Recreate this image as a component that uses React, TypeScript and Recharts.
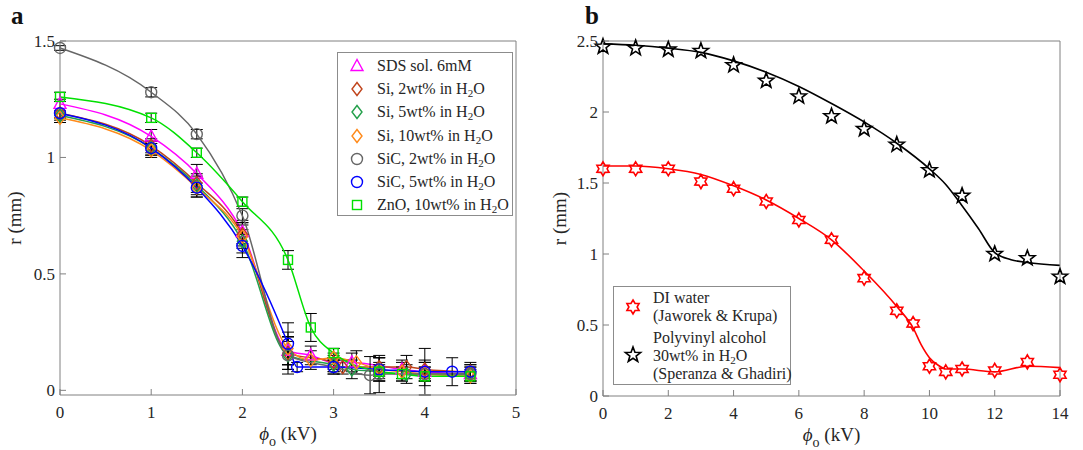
import React from "react";
import { LineChart, ComposedChart, Line, Scatter, XAxis, YAxis, ErrorBar } from "recharts";

const FONT = '"Liberation Serif", "Times New Roman", serif';
const AXIS_COLOR = "#808080";
const TEXT_COLOR = "#262626";

// ---- panel a: measured radius, error bars are std dev
const ticksA_X = [0, 1, 2, 3, 4, 5];
const ticksA_Y = [0, 0.5, 1, 1.5];

const sdsX = [0, 1, 1.5, 2, 2.5, 2.75, 3, 3.2, 3.75, 4, 4.5];
const sdsY = [1.23, 1.09, 0.93, 0.68, 0.17, 0.15, 0.12, 0.12, 0.09, 0.08, 0.07];
const sdsE = [0.02, 0.03, 0.04, 0.05, 0.06, 0.04, 0.04, 0.04, 0.04, 0.04, 0.03];

const si2X = [0, 1, 1.5, 2, 2.5, 3, 3.1, 3.5, 3.8, 4, 4.5];
const si2Y = [1.19, 1.05, 0.89, 0.67, 0.16, 0.12, 0.1, 0.1, 0.1, 0.09, 0.08];
const si2E = [0.02, 0.03, 0.04, 0.05, 0.07, 0.03, 0.03, 0.04, 0.05, 0.04, 0.03];

const si5X = [0, 1, 1.5, 2, 2.5, 3, 3.2, 3.5, 3.8, 4, 4.5];
const si5Y = [1.18, 1.04, 0.88, 0.64, 0.15, 0.11, 0.09, 0.08, 0.07, 0.07, 0.07];
const si5E = [0.02, 0.03, 0.04, 0.05, 0.08, 0.03, 0.04, 0.04, 0.04, 0.03, 0.03];

const si10X = [0, 1, 1.5, 2, 2.5, 2.75, 3, 3.25, 3.5, 3.75, 4, 4.5];
const si10Y = [1.17, 1.03, 0.87, 0.66, 0.18, 0.13, 0.14, 0.12, 0.09, 0.08, 0.07, 0.06];
const si10E = [0.02, 0.03, 0.04, 0.05, 0.07, 0.04, 0.04, 0.05, 0.05, 0.04, 0.03, 0.03];

const sic2X = [0, 1, 1.5, 2, 2.5, 3, 3.4, 3.5, 4, 4.5];
const sic2Y = [1.47, 1.28, 1.1, 0.75, 0.15, 0.1, 0.065, 0.07, 0.07, 0.07];
const sic2E = [0.01, 0.02, 0.02, 0.03, 0.06, 0.03, 0.08, 0.08, 0.05, 0.04];

const sic5X = [0, 1, 1.5, 2, 2.5, 2.6, 3, 3.5, 4, 4.3, 4.5];
const sic5Y = [1.19, 1.04, 0.87, 0.62, 0.2, 0.1, 0.1, 0.09, 0.08, 0.08, 0.08];
const sic5E = [0.02, 0.03, 0.04, 0.05, 0.09, 0.02, 0.03, 0.05, 0.1, 0.06, 0.04];

const znoX = [0, 1, 1.5, 2, 2.5, 2.75, 3, 3.5, 3.75, 4, 4.5];
const znoY = [1.26, 1.17, 1.02, 0.81, 0.56, 0.27, 0.16, 0.08, 0.07, 0.06, 0.06];
const znoE = [0.02, 0.02, 0.02, 0.02, 0.04, 0.06, 0.02, 0.03, 0.03, 0.02, 0.02];

// ---- panel b: literature data + fitted curves
const ticksB_X = [0, 2, 4, 6, 8, 10, 12, 14];
const ticksB_Y = [0, 0.5, 1, 1.5, 2, 2.5];

const diX = [0, 1, 2, 3, 4, 5, 6, 7, 8, 9, 9.5, 10, 10.5, 11, 12, 13, 14];
const diY = [1.6, 1.6, 1.6, 1.51, 1.46, 1.37, 1.24, 1.1, 0.83, 0.6, 0.51, 0.21, 0.17, 0.19, 0.18, 0.24, 0.15];
const diFitX = [0, 1, 2, 3, 4, 5, 6, 7, 8, 9, 9.5, 9.75, 10, 10.25, 10.5, 11, 12, 13, 14];
const diFitY = [1.62, 1.62, 1.6, 1.56, 1.48, 1.38, 1.25, 1.1, 0.88, 0.63, 0.48, 0.36, 0.27, 0.22, 0.19, 0.19, 0.17, 0.21, 0.2];

const pvaX = [0, 1, 2, 3, 4, 5, 6, 7, 8, 9, 10, 11, 12, 13, 14];
const pvaY = [2.46, 2.45, 2.44, 2.43, 2.33, 2.22, 2.11, 1.97, 1.88, 1.77, 1.59, 1.41, 1.0, 0.97, 0.84];
const pvaFitX = [0, 1, 2, 3, 4, 5, 6, 7, 8, 9, 10, 10.5, 11, 11.5, 12, 12.5, 13, 14];
const pvaFitY = [2.48, 2.47, 2.45, 2.42, 2.36, 2.28, 2.18, 2.06, 1.93, 1.78, 1.6, 1.49, 1.34, 1.18, 1.01, 0.96, 0.94, 0.92];

type Kind = "triangle" | "diamond" | "circle" | "square" | "hexagram" | "pentagram";

const rows = (xs: number[], ys: number[], es?: number[]) =>
    xs.map((x, i) => ({ x, y: ys[i], e: es ? es[i] : undefined }));

const seriesA: { label: string; water: boolean; color: string; kind: Kind; data: any[] }[] = [
    { label: "SDS sol. 6mM", water: false, color: "#ff00ff", kind: "triangle", data: rows(sdsX, sdsY, sdsE) },
    { label: "Si, 2wt%", water: true, color: "#c0441c", kind: "diamond", data: rows(si2X, si2Y, si2E) },
    { label: "Si, 5wt%", water: true, color: "#23a04a", kind: "diamond", data: rows(si5X, si5Y, si5E) },
    { label: "Si, 10wt%", water: true, color: "#ff8a1a", kind: "diamond", data: rows(si10X, si10Y, si10E) },
    { label: "SiC, 2wt%", water: true, color: "#666666", kind: "circle", data: rows(sic2X, sic2Y, sic2E) },
    { label: "SiC, 5wt%", water: true, color: "#0000ff", kind: "circle", data: rows(sic5X, sic5Y, sic5E) },
    { label: "ZnO, 10wt%", water: true, color: "#00e000", kind: "square", data: rows(znoX, znoY, znoE) },
];

function starPoints(cx: number, cy: number, n: number, R: number, r: number) {
    const pts: string[] = [];
    for (let i = 0; i < 2 * n; i++) {
        const a = -Math.PI / 2 + (i * Math.PI) / n;
        const rad = i % 2 === 0 ? R : r;
        pts.push(`${cx + rad * Math.cos(a)},${cy + rad * Math.sin(a)}`);
    }
    return pts.join(" ");
}

function Marker({ cx, cy, kind, color }: { cx?: number; cy?: number; kind: Kind; color: string }) {
    if (cx == null || cy == null || isNaN(cx) || isNaN(cy)) return null;
    const s = { fill: "none", stroke: color, strokeWidth: 1.4 };
    if (kind === "triangle") return <polygon points={`${cx},${cy - 6.5} ${cx - 6},${cy + 4.5} ${cx + 6},${cy + 4.5}`} {...s} />;
    if (kind === "diamond") return <polygon points={`${cx},${cy - 6.5} ${cx + 5},${cy} ${cx},${cy + 6.5} ${cx - 5},${cy}`} {...s} />;
    if (kind === "circle") return <circle cx={cx} cy={cy} r={5.5} {...s} />;
    if (kind === "square") return <rect x={cx - 4.5} y={cy - 4.5} width={9} height={9} {...s} />;
    if (kind === "hexagram") return <polygon points={starPoints(cx, cy, 6, 7, 4.1)} {...s} strokeWidth={1.6} />;
    return <polygon points={starPoints(cx, cy, 5, 8, 3.3)} {...s} strokeWidth={1.6} />;
}

// ticks point inward like matlab, so draw them inside the custom tick
const TickBottom = ({ x, y, payload }: any) => (
    <g>
        <line x1={x} y1={y - 9} x2={x} y2={y - 15} stroke={AXIS_COLOR} />
        <text x={x} y={y} dy="0.8em" textAnchor="middle" fill={TEXT_COLOR} fontSize={17} fontFamily={FONT}>
            {payload.value}
        </text>
    </g>
);
const TickLeft = ({ x, y, payload }: any) => (
    <g>
        <line x1={x + 5} y1={y} x2={x + 11} y2={y} stroke={AXIS_COLOR} />
        <text x={x} y={y} dy="0.35em" textAnchor="end" fill={TEXT_COLOR} fontSize={17} fontFamily={FONT}>
            {payload.value}
        </text>
    </g>
);
const TickTop = ({ x, y }: any) => <line x1={x} y1={y} x2={x} y2={y + 6} stroke={AXIS_COLOR} />;
const TickRight = ({ x, y }: any) => <line x1={x} y1={y} x2={x - 6} y2={y} stroke={AXIS_COLOR} />;

const XTitle = ({ viewBox }: any) => {
    const { x, y, width } = viewBox;
    return (
        <text x={x + width / 2} y={y + 45} textAnchor="middle" fill={TEXT_COLOR} fontSize={19} fontFamily={FONT}>
            <tspan fontStyle="italic">ϕ</tspan>
            <tspan dy={6} fontSize={14}>o</tspan>
            <tspan dy={-6}> (kV)</tspan>
        </text>
    );
};
const YTitle = ({ viewBox, dx }: any) => {
    const { x, y, height } = viewBox;
    const cx = x - dx;
    const cy = y + height / 2;
    return (
        <text x={cx} y={cy} textAnchor="middle" transform={`rotate(-90 ${cx} ${cy})`} fill={TEXT_COLOR} fontSize={19} fontFamily={FONT}>
            r (mm)
        </text>
    );
};

const axisLine = { stroke: AXIS_COLOR, strokeWidth: 1 };

function H2O() {
    return (
        <>
            {" "}in H<sub style={{ fontSize: 11, verticalAlign: -3, lineHeight: 0 }}>2</sub>O
        </>
    );
}

function LegendMarker({ kind, color }: { kind: Kind; color: string }) {
    return (
        <svg width={20} height={20} style={{ display: "block" }}>
            <Marker cx={10} cy={10} kind={kind} color={color} />
        </svg>
    );
}

export default function App() {
    return (
        <div style={{ position: "absolute", left: 0, top: 0, width: 1083, height: 450, background: "#fff", fontFamily: FONT }}>
            <div style={{ position: "absolute", left: 11, top: 2, fontSize: 25, fontWeight: "bold", color: "#111" }}>a</div>
            <div style={{ position: "absolute", left: 585, top: 2, fontSize: 25, fontWeight: "bold", color: "#111" }}>b</div>

            <div style={{ position: "absolute", left: 0, top: 0 }}>
                <LineChart width={540} height={450} margin={{ top: 40, right: 23, bottom: 54, left: 59 }}>
                    <XAxis type="number" dataKey="x" domain={[0, 5]} ticks={ticksA_X} height={1} tickSize={0} tickMargin={9}
                        axisLine={axisLine} tickLine={false} tick={(p: any) => <TickBottom {...p} />} label={<XTitle />} />
                    <XAxis xAxisId="top" orientation="top" type="number" domain={[0, 5]} ticks={ticksA_X} height={1} tickSize={0}
                        tickMargin={0} axisLine={axisLine} tickLine={false} tick={(p: any) => <TickTop {...p} />} />
                    <YAxis type="number" dataKey="y" domain={[0, 1.5]} ticks={ticksA_Y} width={1} tickSize={0} tickMargin={5}
                        axisLine={axisLine} tickLine={false} tick={(p: any) => <TickLeft {...p} />} label={<YTitle dx={38} />} />
                    <YAxis yAxisId="right" orientation="right" type="number" domain={[0, 1.5]} ticks={ticksA_Y} width={1} tickSize={0}
                        tickMargin={0} axisLine={axisLine} tickLine={false} tick={(p: any) => <TickRight {...p} />} />
                    {seriesA.map((s) => (
                        <Line key={s.label} data={s.data} dataKey="y" type="monotone" stroke={s.color} strokeWidth={1.5}
                            isAnimationActive={false}
                            dot={(p: any) => <Marker key={p.index} cx={p.cx} cy={p.cy} kind={s.kind} color={s.color} />}>
                            <ErrorBar dataKey="e" direction="y" width={6} stroke="#000" strokeWidth={1} isAnimationActive={false} />
                        </Line>
                    ))}
                </LineChart>
            </div>

            <div style={{
                position: "absolute", left: 337, top: 52, width: 176, height: 164, border: "1px solid #8c8c8c",
                background: "#fff", boxSizing: "border-box", paddingTop: 1, fontSize: 16, color: TEXT_COLOR,
            }}>
                {seriesA.map((s) => (
                    <div key={s.label} style={{ display: "flex", alignItems: "center", height: 23.3, whiteSpace: "nowrap" }}>
                        <div style={{ width: 30, paddingLeft: 9 }}><LegendMarker kind={s.kind} color={s.color} /></div>
                        <span>{s.label}{s.water && <H2O />}</span>
                    </div>
                ))}
            </div>

            <div style={{ position: "absolute", left: 550, top: 0 }}>
                <ComposedChart width={533} height={450} margin={{ top: 40, right: 22, bottom: 53, left: 52 }}>
                    <XAxis type="number" dataKey="x" domain={[0, 14]} ticks={ticksB_X} height={1} tickSize={0} tickMargin={9}
                        axisLine={axisLine} tickLine={false} tick={(p: any) => <TickBottom {...p} />} label={<XTitle />} />
                    <XAxis xAxisId="top" orientation="top" type="number" domain={[0, 14]} ticks={ticksB_X} height={1} tickSize={0}
                        tickMargin={0} axisLine={axisLine} tickLine={false} tick={(p: any) => <TickTop {...p} />} />
                    <YAxis type="number" dataKey="y" domain={[0, 2.5]} ticks={ticksB_Y} width={1} tickSize={0} tickMargin={5}
                        axisLine={axisLine} tickLine={false} tick={(p: any) => <TickLeft {...p} />} label={<YTitle dx={36} />} />
                    <YAxis yAxisId="right" orientation="right" type="number" domain={[0, 2.5]} ticks={ticksB_Y} width={1} tickSize={0}
                        tickMargin={0} axisLine={axisLine} tickLine={false} tick={(p: any) => <TickRight {...p} />} />
                    <Line data={rows(diFitX, diFitY)} dataKey="y" type="monotone" stroke="#ff0000" strokeWidth={1.6} dot={false} isAnimationActive={false} />
                    <Line data={rows(pvaFitX, pvaFitY)} dataKey="y" type="monotone" stroke="#000" strokeWidth={1.6} dot={false} isAnimationActive={false} />
                    <Scatter data={rows(diX, diY)} dataKey="y" isAnimationActive={false}
                        shape={(p: any) => <Marker cx={p.cx} cy={p.cy} kind="hexagram" color="#ff0000" />} />
                    <Scatter data={rows(pvaX, pvaY)} dataKey="y" isAnimationActive={false}
                        shape={(p: any) => <Marker cx={p.cx} cy={p.cy} kind="pentagram" color="#000" />} />
                </ComposedChart>
            </div>

            <div style={{
                position: "absolute", left: 613, top: 286, width: 178, height: 99, border: "1px solid #8c8c8c",
                background: "#fff", boxSizing: "border-box", fontSize: 16, lineHeight: "18px", color: TEXT_COLOR,
            }}>
                <div style={{ position: "absolute", left: 9, top: 10 }}><LegendMarker kind="hexagram" color="#ff0000" /></div>
                <div style={{ position: "absolute", left: 39, top: 2 }}>DI water<br />(Jaworek &amp; Krupa)</div>
                <div style={{ position: "absolute", left: 9, top: 58 }}><LegendMarker kind="pentagram" color="#000" /></div>
                <div style={{ position: "absolute", left: 39, top: 42, whiteSpace: "nowrap" }}>
                    Polyvinyl alcohol<br />30wt%<H2O /><br />(Speranza &amp; Ghadiri)
                </div>
            </div>
        </div>
    );
}
